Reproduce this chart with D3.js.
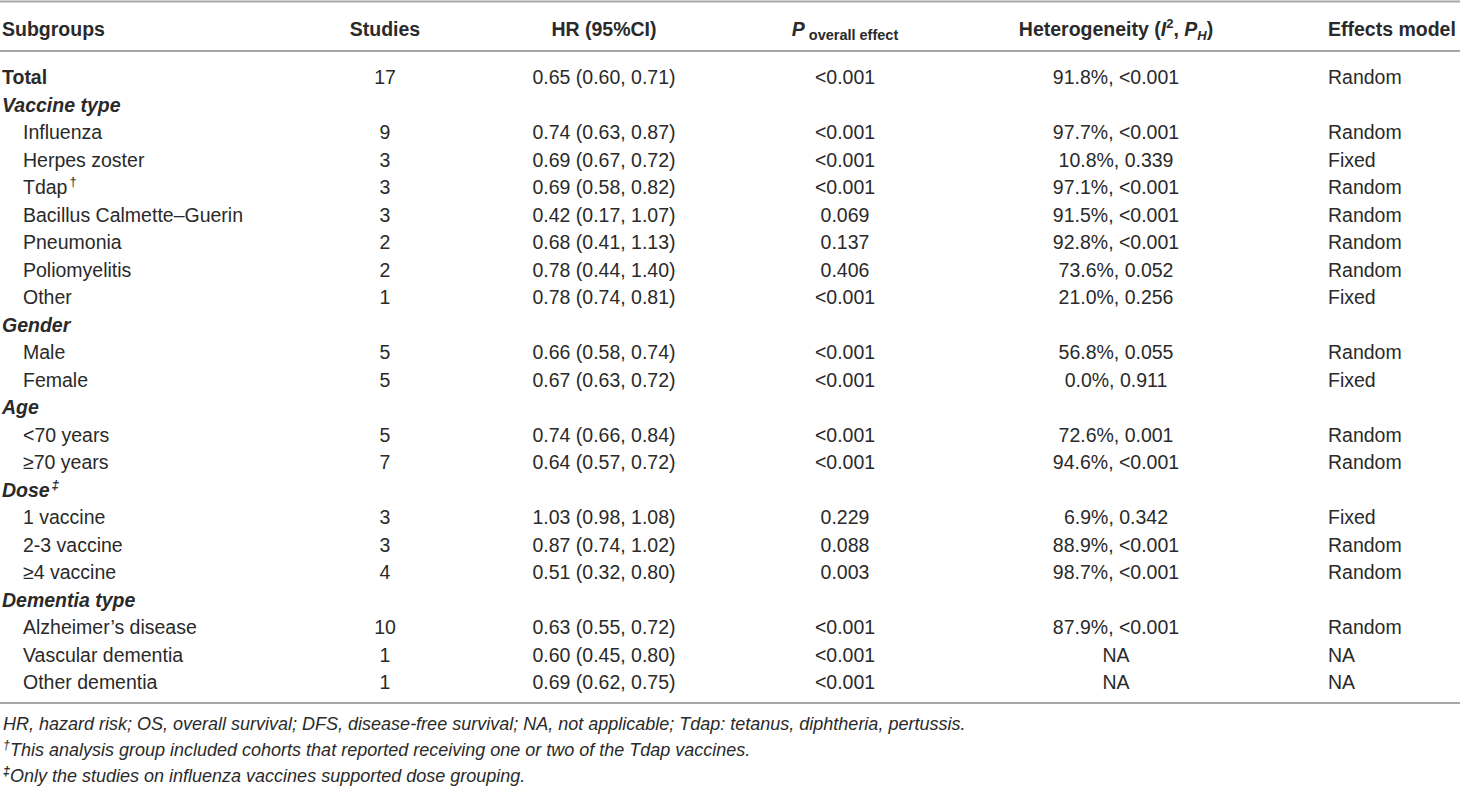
<!DOCTYPE html>
<html>
<head>
<meta charset="utf-8">
<script src="https://cdn.jsdelivr.net/npm/d3@7"></script>
<style>
  html, body { margin: 0; padding: 0; background: #fff; }
  svg { display: block; }
  text { font-family: "Liberation Sans", Arial, Helvetica, sans-serif; fill: #2a2a2a; }
</style>
</head>
<body>
<svg id="chart" width="1460" height="786"></svg>
<script>
// ---------- data ----------
const subgroups = ["Total","Vaccine type","Influenza","Herpes zoster","Tdap","Bacillus Calmette\u2013Guerin","Pneumonia","Poliomyelitis","Other","Gender","Male","Female","Age","<70 years","\u226570 years","Dose","1 vaccine","2-3 vaccine","\u22654 vaccine","Dementia type","Alzheimer\u2019s disease","Vascular dementia","Other dementia"];
const rowKinds = ["total","group","item","item","item","item","item","item","item","group","item","item","group","item","item","group","item","item","item","group","item","item","item"];
const rowMarks = ["","","","","\u2020","","","","","","","","","","","\u2021","","","","","","",""];
const studies = ["17","","9","3","3","3","2","2","1","","5","5","","5","7","","3","3","4","","10","1","1"];
const hrCI = ["0.65 (0.60, 0.71)","","0.74 (0.63, 0.87)","0.69 (0.67, 0.72)","0.69 (0.58, 0.82)","0.42 (0.17, 1.07)","0.68 (0.41, 1.13)","0.78 (0.44, 1.40)","0.78 (0.74, 0.81)","","0.66 (0.58, 0.74)","0.67 (0.63, 0.72)","","0.74 (0.66, 0.84)","0.64 (0.57, 0.72)","","1.03 (0.98, 1.08)","0.87 (0.74, 1.02)","0.51 (0.32, 0.80)","","0.63 (0.55, 0.72)","0.60 (0.45, 0.80)","0.69 (0.62, 0.75)"];
const pOverall = ["<0.001","","<0.001","<0.001","<0.001","0.069","0.137","0.406","<0.001","","<0.001","<0.001","","<0.001","<0.001","","0.229","0.088","0.003","","<0.001","<0.001","<0.001"];
const heterogeneity = ["91.8%, <0.001","","97.7%, <0.001","10.8%, 0.339","97.1%, <0.001","91.5%, <0.001","92.8%, <0.001","73.6%, 0.052","21.0%, 0.256","","56.8%, 0.055","0.0%, 0.911","","72.6%, 0.001","94.6%, <0.001","","6.9%, 0.342","88.9%, <0.001","98.7%, <0.001","","87.9%, <0.001","NA","NA"];
const effectsModel = ["Random","","Random","Fixed","Random","Random","Random","Random","Fixed","","Random","Fixed","","Random","Random","","Fixed","Random","Random","","Random","NA","NA"];
const columnKeys = ["subgroup","studies","hr","p","het","model"];
const footnotes = [
  {mark: "", text: "HR, hazard risk; OS, overall survival; DFS, disease-free survival; NA, not applicable; Tdap: tetanus, diphtheria, pertussis."},
  {mark: "\u2020", text: "This analysis group included cohorts that reported receiving one or two of the Tdap vaccines."},
  {mark: "\u2021", text: "Only the studies on influenza vaccines supported dose grouping."}
];

// ---------- layout ----------
const svg = d3.select("#chart");
const FS = 19.5;
const colX = d3.scaleOrdinal().domain(columnKeys).range([2, 385, 604, 845, 1116, 1328]);
const colAnchor = d3.scaleOrdinal().domain(columnKeys).range(["start","middle","middle","middle","middle","start"]);
const rowY = d3.scaleLinear().domain([0, subgroups.length - 1]).range([84, 689]);
const footY = d3.scaleLinear().domain([0, footnotes.length - 1]).range([730, 782]);

// rules
const rules = [1.5, 51, 703];
svg.selectAll("line.rule").data(rules).join("line")
  .attr("class","rule")
  .attr("x1", 0).attr("x2", 1460)
  .attr("y1", d => d).attr("y2", d => d)
  .attr("stroke", "#a6a6a6").attr("stroke-width", 2);

// header
const hy = 36;
const hdr = svg.append("g").attr("font-weight", "bold").attr("font-size", FS);
hdr.append("text").attr("x", colX("subgroup")).attr("y", hy).attr("text-anchor","start").text("Subgroups");
hdr.append("text").attr("x", colX("studies")).attr("y", hy).attr("text-anchor","middle").text("Studies");
hdr.append("text").attr("x", colX("hr")).attr("y", hy).attr("text-anchor","middle").text("HR (95%CI)");
const pt = hdr.append("text").attr("x", colX("p")).attr("y", hy).attr("text-anchor","middle");
pt.append("tspan").attr("font-style","italic").text("P");
pt.append("tspan").attr("font-size", 14.5).attr("dy", 4).text("\u00a0overall effect");
const ht = hdr.append("text").attr("x", colX("het")).attr("y", hy).attr("text-anchor","middle");
ht.append("tspan").text("Heterogeneity (");
ht.append("tspan").attr("font-style","italic").text("I");
ht.append("tspan").attr("font-size", 13).attr("dy", -8).text("2");
ht.append("tspan").attr("dy", 8).text(",\u00a0");
ht.append("tspan").attr("font-style","italic").text("P");
ht.append("tspan").attr("font-style","italic").attr("font-size", 13).attr("dy", 4).text("H");
ht.append("tspan").attr("dy", -4).text(")");
hdr.append("text").attr("x", colX("model")).attr("y", hy).attr("text-anchor","start").text("Effects model");

// body rows
const rows = subgroups.map((s, i) => ({
  i, kind: rowKinds[i], mark: rowMarks[i],
  cells: { subgroup: s, studies: studies[i], hr: hrCI[i], p: pOverall[i], het: heterogeneity[i], model: effectsModel[i] }
}));

const rowG = svg.append("g").attr("font-size", FS)
  .selectAll("g.row").data(rows).join("g").attr("class","row");

rowG.each(function(d) {
  const g = d3.select(this);
  const t = g.append("text")
    .attr("x", colX("subgroup") + (d.kind === "item" ? 21 : 0))
    .attr("y", rowY(d.i))
    .attr("font-weight", d.kind === "item" ? "normal" : "bold")
    .attr("font-style", d.kind === "group" ? "italic" : "normal");
  t.append("tspan").text(d.cells.subgroup);
  if (d.mark) {
    t.append("tspan").attr("font-size", 13).attr("dy", -8).attr("dx", 2).text(d.mark);
  }
  columnKeys.slice(1).forEach(k => {
    if (!d.cells[k]) return;
    g.append("text")
      .attr("x", colX(k)).attr("y", rowY(d.i))
      .attr("text-anchor", colAnchor(k))
      .text(d.cells[k]);
  });
});

// footnotes
const fg = svg.append("g").attr("font-size", 18).attr("font-style","italic");
footnotes.forEach((f, i) => {
  const t = fg.append("text").attr("x", 3).attr("y", footY(i));
  if (f.mark) {
    t.append("tspan").attr("font-size", 12.5).attr("dy", -7).attr("font-weight", f.mark === "\u2021" ? "bold" : "normal").text(f.mark);
    t.append("tspan").attr("dy", 7).text(f.text);
  } else {
    t.append("tspan").text(f.text);
  }
});
</script>
</body>
</html>
